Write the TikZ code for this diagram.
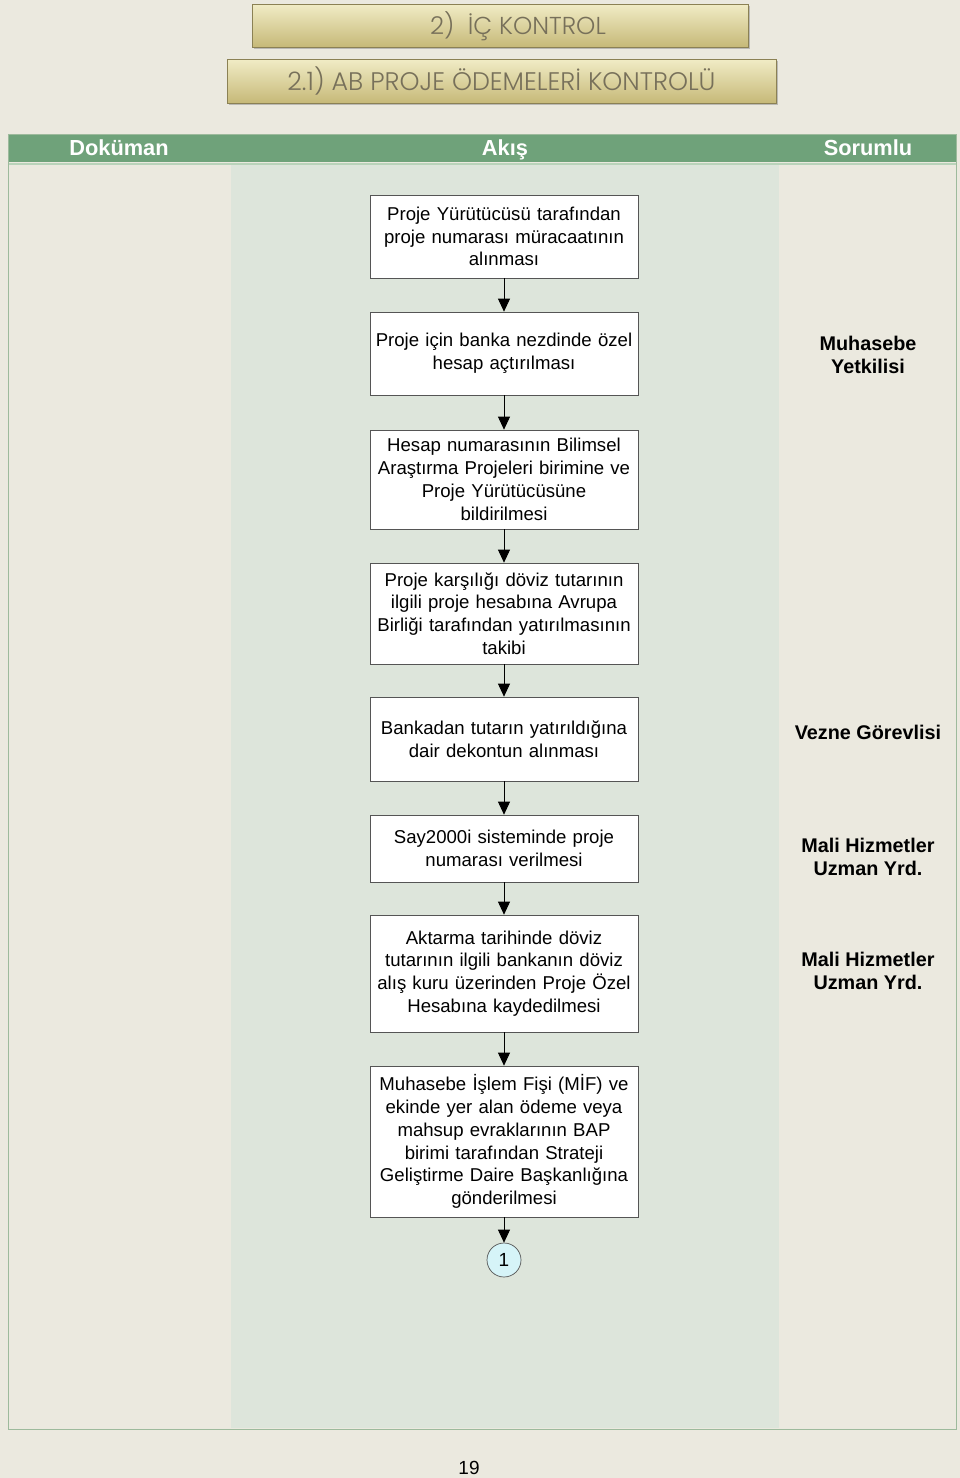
\documentclass[tikz,border=0pt]{standalone}
\usepackage{fontspec}
\setmainfont{Liberation Sans}
\newfontfamily\bannerfont{Poppins Light}
\usetikzlibrary{arrows.meta,shadows}
\definecolor{pagebg}{HTML}{EBE9DF}
\definecolor{flowbg}{HTML}{DDE5DB}
\definecolor{headgreen}{HTML}{6FA27A}
\definecolor{headline}{HTML}{B9D3BA}
\definecolor{framegreen}{HTML}{9DBA9C}
\definecolor{bantop}{HTML}{F1ECC6}
\definecolor{banbot}{HTML}{C6B978}
\definecolor{bantext}{HTML}{77705A}
\definecolor{boxline}{HTML}{555555}
\definecolor{conncyan}{HTML}{D6F4F8}
\tikzset{
  banner/.style={draw=banbot!70!black, line width=0.6pt, top color=bantop, bottom color=banbot,
    drop shadow={shadow xshift=2pt, shadow yshift=-2pt, opacity=0.45},
    text=bantext, inner sep=0pt},
  headtext/.style={font=\bfseries\fontsize{21.8}{24}\selectfont, text=white, inner sep=0pt, anchor=base},
  stepbox/.style={draw=boxline, line width=0.7pt, fill=white, minimum width=268pt,
    text width=266pt, align=center, inner sep=0pt,
    font=\fontsize{18.6}{22.8}\selectfont},
  resp/.style={font=\bfseries\fontsize{19.8}{22.8}\selectfont, align=center, inner sep=0pt},
  flow/.style={-{Triangle[length=13pt,width=12pt]}, line width=0.8pt, black},
}
\begin{document}
\begin{tikzpicture}[x=1pt,y=-1pt]
\fill[pagebg] (0,0) rectangle (960,1478);
\useasboundingbox (0,0) rectangle (960,1478);

% banners
\node[banner, minimum width=496pt, minimum height=43pt] (b1) at (500,25.5) {};
\node[font=\bannerfont\fontsize{24.5}{28}\selectfont, text=bantext, inner sep=0pt] (b1t) at (518,26) {2)\ \ İÇ KONTROL};
\node[banner, minimum width=549pt, minimum height=44pt, font=\bannerfont\fontsize{25.4}{28}\selectfont] (b2) at (501.5,81) {2.1) AB PROJE ÖDEMELERİ KONTROLÜ};

% table
\fill[flowbg] (231,165) rectangle (779,1428);
\fill[headgreen] (9,135) rectangle (956,162);
\draw[headline, line width=2pt] (9,164) -- (956,164);
\draw[framegreen, line width=1.6pt] (8.5,134.5) rectangle (956.5,1429.5);
\node[headtext] (h1) at (119,155.5) {Doküman};
\node[headtext] (h2) at (505,155.5) {Akış};
\node[headtext] (h3) at (868,155.5) {Sorumlu};

% steps
\node[stepbox, minimum height=83pt] (s1) at (504,236.5) {Proje Yürütücüsü tarafından\\proje numarası müracaatının\\alınması};
\node[stepbox, minimum height=83pt] (s2) at (504,353.5) {Proje için banka nezdinde özel\\hesap açtırılması};
\node[stepbox, minimum height=99pt] (s3) at (504,479.5) {Hesap numarasının Bilimsel\\Araştırma Projeleri birimine ve\\Proje Yürütücüsüne\\bildirilmesi};
\node[stepbox, minimum height=101pt] (s4) at (504,613.5) {Proje karşılığı döviz tutarının\\ilgili proje hesabına Avrupa\\Birliği tarafından yatırılmasının\\takibi};
\node[stepbox, minimum height=84pt] (s5) at (504,739) {Bankadan tutarın yatırıldığına\\dair dekontun alınması};
\node[stepbox, minimum height=67pt] (s6) at (504,848.5) {Say2000i sisteminde proje\\numarası verilmesi};
\node[stepbox, minimum height=117pt] (s7) at (504,973.5) {Aktarma tarihinde döviz\\tutarının ilgili bankanın döviz\\alış kuru üzerinden Proje Özel\\Hesabına kaydedilmesi};
\node[stepbox, minimum height=151pt] (s8) at (504,1141.5) {Muhasebe İşlem Fişi (MİF) ve\\ekinde yer alan ödeme veya\\mahsup evraklarının BAP\\birimi tarafından Strateji\\Geliştirme Daire Başkanlığına\\gönderilmesi};
\node[circle, draw=boxline, line width=0.7pt, fill=conncyan, minimum size=34pt, inner sep=0pt,
  font=\fontsize{19}{20}\selectfont] (c1) at (504,1260) {1};

\draw[flow] (s1) -- (s2);
\draw[flow] (s2) -- (s3);
\draw[flow] (s3) -- (s4);
\draw[flow] (s4) -- (s5);
\draw[flow] (s5) -- (s6);
\draw[flow] (s6) -- (s7);
\draw[flow] (s7) -- (s8);
\draw[flow] (s8) -- (c1);

% responsible
\node[resp] (r1) at (868,355) {Muhasebe\\Yetkilisi};
\node[resp] (r2) at (868,732) {Vezne Görevlisi};
\node[resp] (r3) at (868,857) {Mali Hizmetler\\Uzman Yrd.};
\node[resp] (r4) at (868,971) {Mali Hizmetler\\Uzman Yrd.};

\node[font=\fontsize{19}{22}\selectfont, inner sep=0pt] (pg) at (469,1468) {19};
\end{tikzpicture}
\end{document}
